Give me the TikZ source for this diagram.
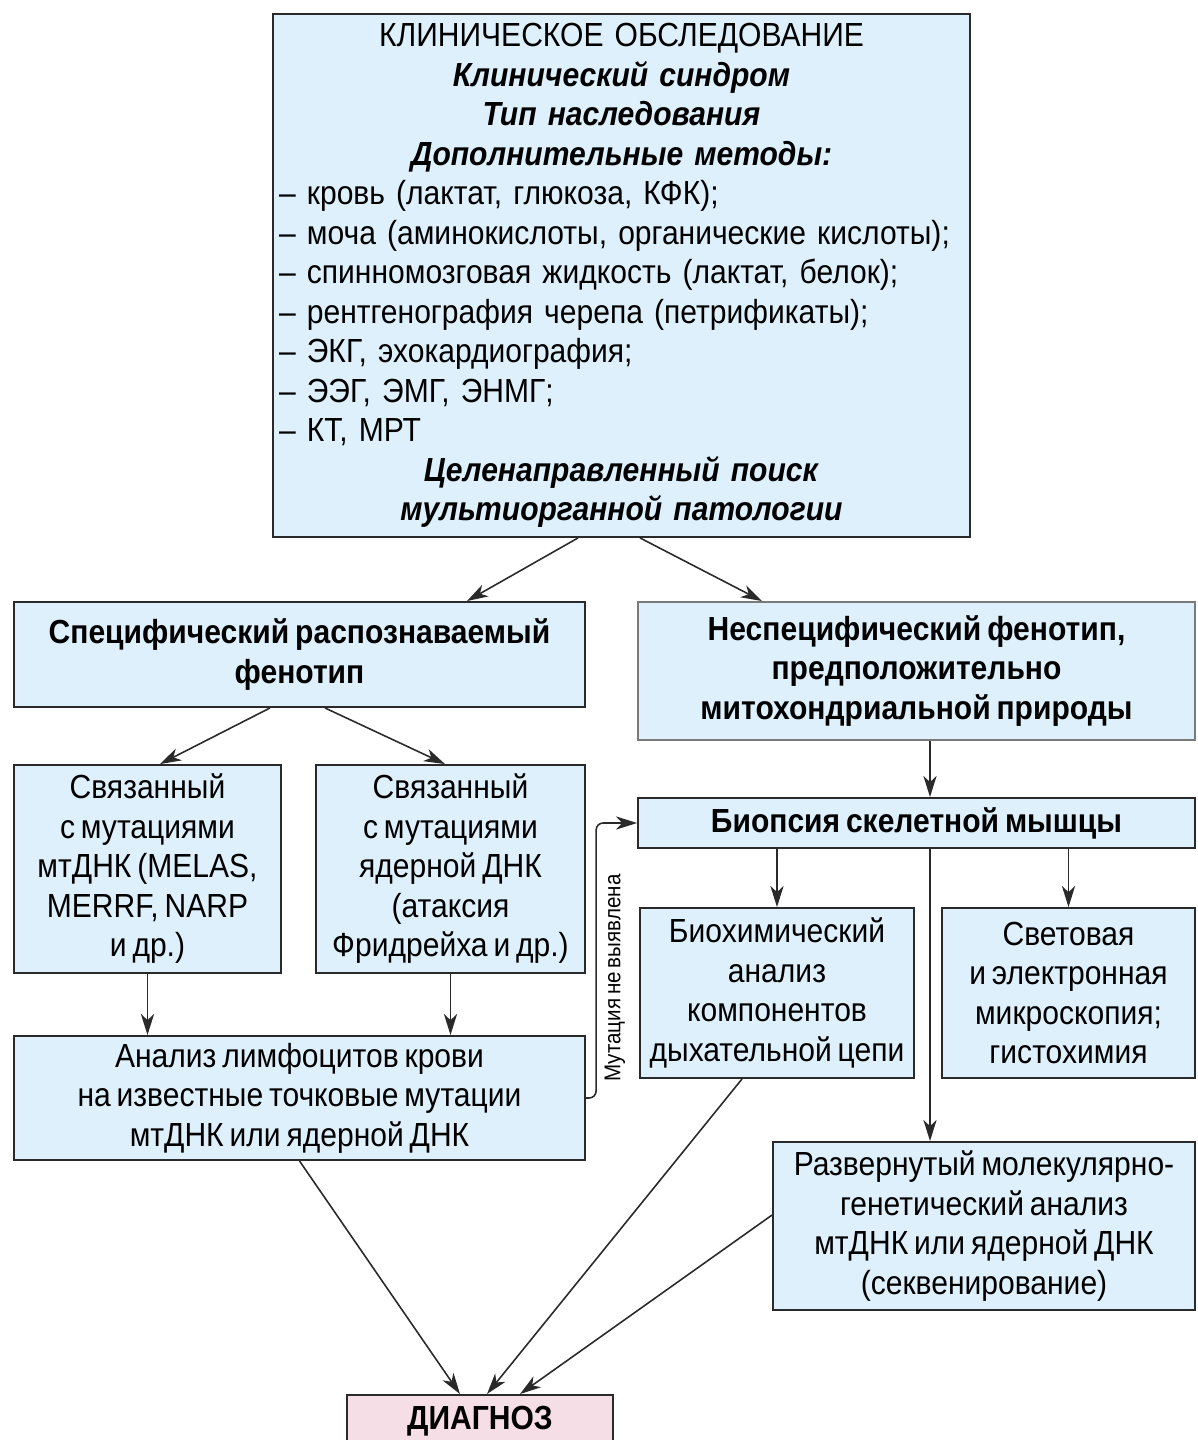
\documentclass[tikz,border=0pt]{standalone}
\usepackage{fontspec}
\setmainfont{Liberation Sans}[FakeStretch=0.9, WordSpace=0.7]
\usetikzlibrary{arrows.meta}
\definecolor{boxblue}{HTML}{DDF0FB}
\definecolor{diagpink}{HTML}{F6DEE6}
\definecolor{edgegray}{HTML}{2A2A2A}
\definecolor{softgray}{HTML}{7A7A7A}

\begin{document}
\begin{tikzpicture}[x=0.02cm,y=-0.02cm,>={Stealth[length=12pt,width=7.5pt,inset=3.5pt]}]
\tikzstyle{every node}=[inner sep=0pt, align=center, font=\fontsize{19}{22.5}\selectfont]
\tikzstyle{box}=[draw=edgegray, line width=1.1pt, fill=boxblue, rectangle]
\tikzstyle{arr}=[->, line width=0.9pt, draw=edgegray]
\useasboundingbox (0,0) rectangle (1197,1440);
\clip (0,0) rectangle (1197,1440);
\draw (621.5,275.5) node (v1) [box, minimum width=13.94cm, minimum height=10.46cm, text width=13.7cm]
  {КЛИНИЧЕСКОЕ ОБСЛЕДОВАНИЕ\\
   \textbf{\textit{Клинический синдром}}\\
   \textbf{\textit{Тип наследования}}\\
   \textbf{\textit{Дополнительные методы:}}\\
   \makebox[\hsize][l]{– кровь (лактат, глюкоза, КФК);}\\
   \makebox[\hsize][l]{– моча (аминокислоты, органические кислоты);}\\
   \makebox[\hsize][l]{– спинномозговая жидкость (лактат, белок);}\\
   \makebox[\hsize][l]{– рентгенография черепа (петрификаты);}\\
   \makebox[\hsize][l]{– ЭКГ, эхокардиография;}\\
   \makebox[\hsize][l]{– ЭЭГ, ЭМГ, ЭНМГ;}\\
   \makebox[\hsize][l]{– КТ, МРТ}\\
   \textbf{\textit{Целенаправленный поиск}}\\
   \textbf{\textit{мультиорганной патологии}}};
\draw (299.5,654.5) node (v2) [box, minimum width=11.42cm, minimum height=2.1cm]
  {\textbf{Специфический распознаваемый}\\ \textbf{фенотип}};
\draw (916.5,671) node (v3) [box, draw=softgray, minimum width=11.14cm, minimum height=2.76cm]
  {\textbf{Неспецифический фенотип,}\\ \textbf{предположительно}\\ \textbf{митохондриальной природы}};
\draw (147.5,869) node (v4) [box, minimum width=5.34cm, minimum height=4.16cm]
  {Связанный\\ с мутациями\\ мтДНК (MELAS,\\ MERRF, NARP\\ и др.)};
\draw (450.5,869) node (v5) [box, minimum width=5.38cm, minimum height=4.16cm]
  {Связанный\\ с мутациями\\ ядерной ДНК\\ (атаксия\\ Фридрейха и др.)};
\draw (916.5,823) node (v6) [box, minimum width=11.14cm, minimum height=1cm]
  {\textbf{Биопсия скелетной мышцы}};
\draw (777,993) node (v7) [box, minimum width=5.48cm, minimum height=3.4cm]
  {Биохимический\\ анализ\\ компонентов\\ дыхательной цепи};
\draw (1068.5,993) node (v8) [box, minimum width=5.06cm, minimum height=3.4cm]
  {Световая\\ и электронная\\ микроскопия;\\ гистохимия};
\draw (299.5,1098) node (v9) [box, minimum width=11.42cm, minimum height=2.48cm]
  {Анализ лимфоцитов крови\\ на известные точковые мутации\\ мтДНК или ядерной ДНК};
\draw (984,1226) node (v10) [box, minimum width=8.44cm, minimum height=3.36cm]
  {Развернутый молекулярно-\\ генетический анализ\\ мтДНК или ядерной ДНК\\ (секвенирование)};
\draw (480,1421) node (v11) [box, fill=diagpink, minimum width=5.32cm, minimum height=1.04cm]
  {\textbf{ДИАГНОЗ}};
\draw (615,978) node (m1) [rotate=90, font=\fontsize{13}{15}\selectfont] {Мутация не выявлена};
\draw[arr] ([xshift=-0.87cm]v1.south) -- ([xshift=3.35cm]v2.north);
\draw[arr] ([xshift=0.37cm]v1.south) -- ([xshift=-3.09cm]v3.north);
\draw[arr] ([xshift=-0.59cm]v2.south) -- ([xshift=0.25cm]v4.north);
\draw[arr] ([xshift=0.51cm]v2.south) -- ([xshift=-0.11cm]v5.north);
\draw[arr] ([xshift=0.27cm]v3.south) -- ([xshift=0.27cm]v6.north);
\draw[arr] (v7.north |- v6.south) -- (v7.north);
\draw[arr] (v8.north |- v6.south) -- (v8.north);
\draw[arr] ([xshift=0.27cm]v6.south) -- ([xshift=0.27cm]v6.south |- v10.north);
\draw[arr] (v4.south) -- (v4.south |- v9.north);
\draw[arr] (v5.south) -- (v5.south |- v9.north);
\draw[arr, rounded corners=4pt] (v9.east) -| ([xshift=-0.82cm]v6.west) -- (v6.west);
\draw[arr] (v9.south) -- ([xshift=-0.4cm]v11.north);
\draw[arr] ([xshift=-0.7cm]v7.south) -- ([xshift=0.14cm]v11.north);
\draw[arr] ([yshift=0.22cm]v10.west) -- ([xshift=0.8cm]v11.north);
\end{tikzpicture}
\end{document}
